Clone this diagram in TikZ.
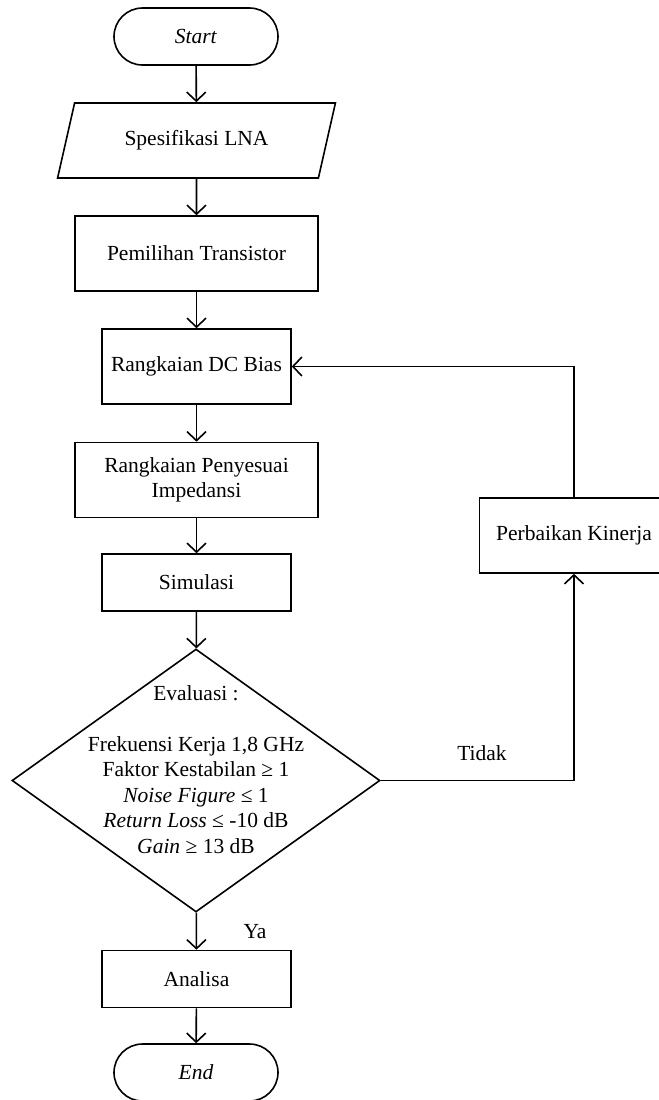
\documentclass[tikz,border=0pt]{standalone}
\usepackage{fontspec}
\setmainfont{Liberation Serif}
\usetikzlibrary{shapes.geometric}
\usetikzlibrary{arrows.meta}

\begin{document}
\begin{tikzpicture}
    [x=0.5pt,y=-0.5pt,line width=0.8pt,
     font=\fontsize{10.75}{12.75}\selectfont,
     terminal/.style={draw,rectangle,rounded corners=14.25pt,minimum width=82pt,minimum height=28.5pt,inner sep=0pt},
     iobox/.style={draw,trapezium,trapezium left angle=63,trapezium right angle=117,trapezium stretches=true,minimum width=140pt,minimum height=37.5pt,inner sep=0pt},
     process/.style={draw,rectangle,minimum width=94.5pt,minimum height=37.5pt,inner sep=0pt},
     wideprocess/.style={process,minimum width=121.5pt},
     shortprocess/.style={process,minimum height=28.5pt},
     decision/.style={draw,diamond,minimum width=184pt,minimum height=131.5pt,inner sep=0pt},
     arr/.style={-{Straight Barb[length=4.5pt,width=9.5pt]}}]
    \useasboundingbox (0,0) rectangle (659,1100);
    \node [terminal] (start) at (196,36.5) {\textit{Start}};
    \node [iobox] (spec) at (196.5,140.5) {Spesifikasi LNA};
    \node [wideprocess] (pilih) at (196.5,253.5) {Pemilihan Transistor};
    \node [process] (bias) at (196.5,366.5) {Rangkaian DC Bias};
    \node [wideprocess,align=center] (match) at (196.5,480) {Rangkaian Penyesuai\\Impedansi};
    \node [shortprocess] (sim) at (196.5,582.5) {Simulasi};
    \node [decision] (eval) at (196,780.5) {};
    \node [align=center] (evaltxt) at (196,769.5) {Evaluasi :\\[12.75pt]
        Frekuensi Kerja 1,8 GHz\\Faktor Kestabilan ≥ 1\\\textit{Noise Figure} ≤ 1\\
        \textit{Return Loss} ≤ -10 dB\\\textit{Gain} ≥ 13 dB};
    \node [shortprocess] (analisa) at (196.5,979) {Analisa};
    \node [terminal] (end) at (196,1072.5) {\textit{End}};
    \node [process] (perbaikan) at (574,535.5) {Perbaikan Kinerja};
    \node (ya) at (255,932) {Ya};
    \node (tidak) at (482,753) {Tidak};
    \draw[arr] (start)--(spec);
    \draw[arr] (spec)--(pilih);
    \draw[arr] (pilih)--(bias);
    \draw[arr] (bias)--(match);
    \draw[arr] (match)--(sim);
    \draw[arr] (sim)--(eval);
    \draw[arr] (eval)--(analisa);
    \draw[arr] (analisa)--(end);
    \draw[arr] (eval.east) -| (perbaikan.south);
    \draw[arr] (perbaikan.north) |- (bias.east);
  \end{tikzpicture}
\end{document}
